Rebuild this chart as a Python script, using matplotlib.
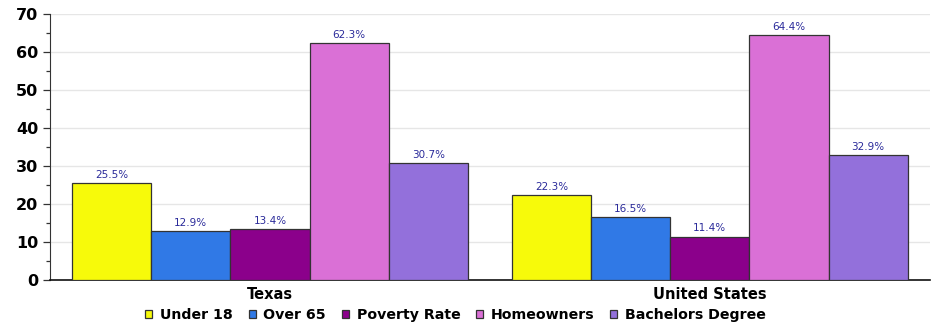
import matplotlib.pyplot as plt
import numpy as np

regions = ["Texas", "United States"]
series = ["Under 18", "Over 65", "Poverty Rate", "Homeowners", "Bachelors Degree"]
values = [
    [25.5, 22.3],
    [12.9, 16.5],
    [13.4, 11.4],
    [62.3, 64.4],
    [30.7, 32.9],
]
colors = ["#f7fa0a", "#3079e6", "#8b008b", "#da70d6", "#9370db"]

fig = plt.figure(figsize=(9.34, 3.27), dpi=100)
ax = fig.add_axes([0.0535, 0.1437, 0.942, 0.8135])

x = np.arange(len(regions))
width = 0.18
for i, (name, vals, c) in enumerate(zip(series, values, colors)):
    pos = x + (i - 2) * width
    bars = ax.bar(pos, vals, width, color=c, edgecolor="#333333", linewidth=0.9,
                  label=name, zorder=3)
    for b, v in zip(bars, vals):
        ax.text(b.get_x() + b.get_width() / 2, v + 0.9, f"{v}%", ha="center",
                va="bottom", fontsize=7.5, color="#2a2a9a", zorder=4)

ax.set_xlim(-0.5, 1.5)
ax.set_ylim(0, 70)
ax.set_yticks(range(0, 71, 10))
ax.set_yticks(range(0, 71, 5), minor=True)
ax.set_xticks(x)
ax.set_xticklabels(regions, fontsize=10.5, fontweight="bold")
ax.tick_params(axis="x", length=0, pad=5)
ax.tick_params(axis="y", which="major", length=5, labelsize=11.5, width=0.9, color="#333333")
ax.tick_params(axis="y", which="minor", length=3, width=0.9, color="#333333")
for lab in ax.get_yticklabels():
    lab.set_fontweight("bold")
ax.yaxis.grid(True, color="#e6e6e6", linewidth=1, zorder=0)
ax.set_axisbelow(True)
ax.spines["top"].set_visible(False)
ax.spines["right"].set_visible(False)
ax.spines["left"].set_color("#333333")
ax.spines["bottom"].set_color("#111111")
ax.spines["bottom"].set_linewidth(1.2)

leg = ax.legend(loc="center", bbox_to_anchor=(0.461, -0.13), ncol=5,
                frameon=False, handlelength=0.5, handleheight=0.5,
                handletextpad=0.55, columnspacing=1.1, borderpad=0,
                prop={"weight": "bold", "size": 10.2})

fig.savefig("out.png", dpi=100)
